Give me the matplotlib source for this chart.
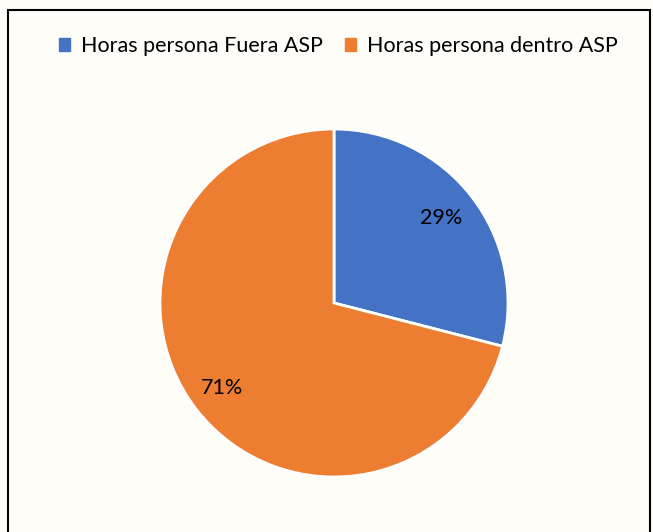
import matplotlib.pyplot as plt
from matplotlib.patches import Rectangle

labels = ["Horas persona Fuera ASP", "Horas persona dentro ASP"]
values = [29, 71]
colors = ["#4472C4", "#ED7D31"]
pct_labels = ["29%", "71%"]

bg = "#FFFDF7"
plt.rcParams['font.family'] = ['Lato', 'DejaVu Sans']

fig = plt.figure(figsize=(6.53, 5.32), dpi=100, facecolor=bg)
W, H = 653, 532
# border
fig.patches.append(Rectangle((7.5 / W, -0.1), (650 - 7.5) / W, (H - 9.5) / H + 0.1,
                             transform=fig.transFigure, fill=False, edgecolor="black",
                             linewidth=1.5))

cx, cy, r = 334, 303, 174
ax = fig.add_axes([(cx - r) / W, 1 - (cy + r) / H, 2 * r / W, 2 * r / H])
ax.set_facecolor(bg)
wedges, _ = ax.pie(values, colors=colors, startangle=90, counterclock=False,
                   wedgeprops=dict(edgecolor="white", linewidth=2))
ax.set_xlim(-1, 1)
ax.set_ylim(-1, 1)
ax.set_aspect('equal')
ax.axis('off')

pos = [(441, 218), (222, 388)]
for t, (x, y) in zip(pct_labels, pos):
    fig.text(x / W, 1 - y / H, t, ha='center', va='center', fontsize=15.5, color="#000000")

handles = [Rectangle((0, 0), 1, 1, color=c) for c in colors]
fig.legend(handles, labels, loc='center', bbox_to_anchor=(0.518, 1 - 46 / H), ncol=2,
           frameon=False, fontsize=15.5, handlelength=0.55, handleheight=0.55,
           handletextpad=0.5, columnspacing=1.0)

fig.savefig("out.png", dpi=100, facecolor=bg)
